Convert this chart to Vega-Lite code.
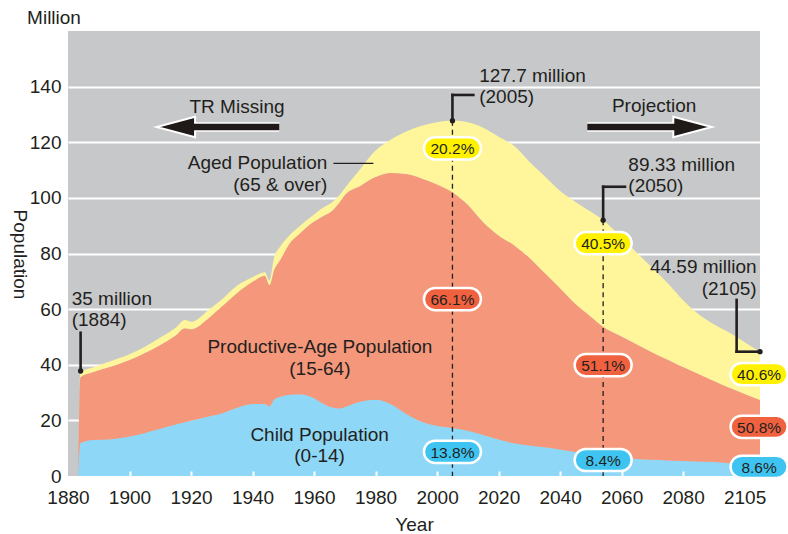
{
  "$schema": "https://vega.github.io/schema/vega-lite/v6.json",
  "width": 692,
  "height": 445,
  "autosize": "none",
  "padding": {"left": 68, "top": 31, "right": 28, "bottom": 58},
  "background": "white",
  "config": {
    "view": {"fill": "#c7c8ca", "stroke": null},
    "font": "Liberation Sans"
  },
  "datasets": {
    "pop": [
      {"year": 1883.3, "young": 0, "working": 0, "old": 0},
      {"year": 1884, "young": 11.8, "working": 23.7, "old": 1.7},
      {"year": 1888, "young": 12.9, "working": 24.4, "old": 1.7},
      {"year": 1893, "young": 13.1, "working": 25.9, "old": 2.0},
      {"year": 1900, "young": 14.2, "working": 27.5, "old": 2.1},
      {"year": 1905, "young": 15.5, "working": 28.7, "old": 2.3},
      {"year": 1910, "young": 17.0, "working": 30.1, "old": 2.7},
      {"year": 1915, "young": 18.5, "working": 32.0, "old": 2.8},
      {"year": 1918, "young": 19.3, "working": 33.8, "old": 3.0},
      {"year": 1920, "young": 19.9, "working": 32.9, "old": 2.7},
      {"year": 1926, "young": 21.5, "working": 35.5, "old": 3.0},
      {"year": 1930, "young": 22.5, "working": 38.4, "old": 2.6},
      {"year": 1935, "young": 24.5, "working": 41.3, "old": 2.7},
      {"year": 1940, "young": 25.9, "working": 43.9, "old": 1.7},
      {"year": 1944, "young": 25.9, "working": 46.1, "old": 1.3},
      {"year": 1945.5, "young": 25.0, "working": 43.7, "old": 1.6},
      {"year": 1947, "young": 27.5, "working": 46.5, "old": 4.5},
      {"year": 1949, "young": 28.5, "working": 49.2, "old": 4.8},
      {"year": 1952, "young": 29.2, "working": 54.3, "old": 3.0},
      {"year": 1955, "young": 29.4, "working": 57.4, "old": 2.7},
      {"year": 1960, "young": 28.0, "working": 63.5, "old": 2.5},
      {"year": 1963, "young": 26.0, "working": 67.5, "old": 3.0},
      {"year": 1966, "young": 24.6, "working": 70.9, "old": 3.0},
      {"year": 1968.5, "young": 24.3, "working": 74.4, "old": 2.6},
      {"year": 1970, "young": 24.8, "working": 76.2, "old": 2.5},
      {"year": 1975, "young": 26.7, "working": 77.6, "old": 6.0},
      {"year": 1980, "young": 27.4, "working": 80.1, "old": 9.5},
      {"year": 1985, "young": 25.8, "working": 83.1, "old": 12.1},
      {"year": 1990, "young": 22.3, "working": 86.3, "old": 15.3},
      {"year": 1995, "young": 19.5, "working": 87.5, "old": 18.9},
      {"year": 2000, "young": 18.0, "working": 86.8, "old": 22.4},
      {"year": 2005, "young": 17.3, "working": 84.7, "old": 25.8},
      {"year": 2010, "young": 16.3, "working": 81.2, "old": 29.7},
      {"year": 2015, "young": 14.7, "working": 76.5, "old": 34.0},
      {"year": 2020, "young": 13.1, "working": 73.4, "old": 35.5},
      {"year": 2025, "young": 11.8, "working": 71.2, "old": 35.7},
      {"year": 2030, "young": 11.0, "working": 67.5, "old": 34.5},
      {"year": 2035, "young": 10.3, "working": 62.7, "old": 34.8},
      {"year": 2040, "young": 9.5, "working": 58.0, "old": 35.0},
      {"year": 2045, "young": 8.6, "working": 53.2, "old": 36.7},
      {"year": 2050, "young": 7.8, "working": 49.5, "old": 37.7},
      {"year": 2054, "young": 7.1, "working": 46.6, "old": 38.3},
      {"year": 2060, "young": 6.5, "working": 43.7, "old": 35.6},
      {"year": 2065, "young": 6.1, "working": 41.2, "old": 32.9},
      {"year": 2070, "young": 5.8, "working": 38.6, "old": 30.4},
      {"year": 2075, "young": 5.6, "working": 36.2, "old": 27.5},
      {"year": 2080, "young": 5.4, "working": 33.8, "old": 24.0},
      {"year": 2085, "young": 5.2, "working": 31.5, "old": 21.5},
      {"year": 2090, "young": 5.0, "working": 29.2, "old": 20.4},
      {"year": 2095, "young": 4.6, "working": 27.1, "old": 19.9},
      {"year": 2100, "young": 4.3, "working": 25.2, "old": 18.6},
      {"year": 2105, "young": 4.0, "working": 23.3, "old": 17.3}
    ],
    "guides": [
      {"year": 2005, "value": 127.75, "value2": 0},
      {"year": 2054, "value": 92.0, "value2": 0}
    ],
    "leaders": [
      {"year": 2005, "value": 137.0, "year2": 2005, "value2": 127.75},
      {"year": 2005, "value": 137.0, "year2": 2011.8, "value2": 137.0},
      {"year": 2054, "value": 104.0, "year2": 2054, "value2": 92.0},
      {"year": 2054, "value": 104.0, "year2": 2061.1, "value2": 104.0},
      {"year": 2097.4, "value": 63.3, "year2": 2097.4, "value2": 44.7},
      {"year": 2097.4, "value": 44.7, "year2": 2105, "value2": 44.7},
      {"year": 1884.1, "value": 51.5, "year2": 1884.1, "value2": 37.75}
    ],
    "agedLeader": [
      {"year": 1966.3, "value": 112.4, "year2": 1979.3, "value2": 112.4}
    ],
    "dots": [
      {"year": 2005, "value": 127.75},
      {"year": 2054, "value": 92.0},
      {"year": 2105, "value": 44.7},
      {"year": 1884.1, "value": 37.75}
    ],
    "pills": [
      {"year": 2005, "value": 117.8, "label": "20.2%", "kind": "old"},
      {"year": 2005, "value": 63.6, "label": "66.1%", "kind": "working"},
      {"year": 2005, "value": 8.7, "label": "13.8%", "kind": "young"},
      {"year": 2054, "value": 83.7, "label": "40.5%", "kind": "old"},
      {"year": 2054, "value": 39.9, "label": "51.1%", "kind": "working"},
      {"year": 2054, "value": 5.75, "label": "8.4%", "kind": "young"},
      {"year": 2104.7, "value": 36.6, "label": "40.6%", "kind": "old"},
      {"year": 2104.7, "value": 17.7, "label": "50.8%", "kind": "working"},
      {"year": 2104.7, "value": 3.3, "label": "8.6%", "kind": "young"}
    ],
    "notesCenter": [
      {"year": 1875.45, "value": 162.5, "text": "Million"},
      {"year": 1934.95, "value": 130.6, "text": "TR Missing"},
      {"year": 2070.6, "value": 130.9, "text": "Projection"},
      {"year": 1961.9, "value": 44.1, "text": "Productive-Age Population\n(15-64)"},
      {"year": 1961.8, "value": 12.6, "text": "Child Population\n(0-14)"}
    ],
    "notesLeft": [
      {"year": 2013.7, "value": 141.8, "text": "127.7 million\n(2005)"},
      {"year": 2062.2, "value": 109.7, "text": "89.33 million\n(2050)"},
      {"year": 1881.2, "value": 61.5, "text": "35 million\n(1884)"}
    ],
    "notesRight": [
      {"year": 1964.3, "value": 110.3, "text": "Aged Population\n(65 & over)"},
      {"year": 2103.9, "value": 72.9, "text": "44.59 million\n(2105)"}
    ],
    "shafts": [
      {"year": 1920.3, "year2": 1948.7, "value": 125.5},
      {"year": 2048.85, "year2": 2077.5, "value": 125.5}
    ],
    "heads": [
      {"year": 1915.07, "value": 125.5, "dir": "left"},
      {"year": 2083.05, "value": 125.5, "dir": "right"}
    ]
  },
  "encoding": {
    "x": {
      "field": "year",
      "type": "quantitative",
      "scale": {"domain": [1880, 2105], "nice": false, "zero": false},
      "axis": {
        "title": "Year",
        "values": [1880, 1900, 1920, 1940, 1960, 1980, 2000, 2020, 2040, 2060, 2080, 2100],
        "labelExpr": "datum.value === 2100 ? '2105' : datum.label",
        "format": "d",
        "grid": false,
        "domain": false,
        "ticks": true,
        "tickSize": -5,
        "tickColor": "white",
        "tickWidth": 2,
        "tickOpacity": {"condition": {"test": "datum.value === 1880 || datum.value === 2100", "value": 0}, "value": 1},
        "labelPadding": 32,
        "labelBaseline": "alphabetic",
        "labelFlush": false,
        "labelOverlap": false,
        "labelFontSize": 19,
        "labelColor": "#231f20",
        "titleFontSize": 19,
        "titleFontWeight": "normal",
        "titleColor": "#231f20",
        "titleY": 54,
        "titleBaseline": "alphabetic",
        "zindex": 1
      }
    },
    "y": {
      "field": "value",
      "type": "quantitative",
      "scale": {"domain": [0, 160], "nice": false},
      "axis": {
        "title": "Population",
        "values": [0, 20, 40, 60, 80, 100, 120, 140],
        "grid": true,
        "gridColor": "white",
        "gridWidth": 2,
        "gridOpacity": {"condition": {"test": "datum.value === 0", "value": 0}, "value": 1},
        "ticks": false,
        "domain": false,
        "labelPadding": 7,
        "labelFlush": false,
        "labelOverlap": false,
        "labelFontSize": 19,
        "labelColor": "#231f20",
        "titleFontSize": 19,
        "titleFontWeight": "normal",
        "titleColor": "#231f20",
        "titleAngle": 90,
        "titleX": -55,
        "titleY": 223,
        "titleAlign": "center",
        "titleBaseline": "alphabetic",
        "zindex": 0
      }
    }
  },
  "layer": [
    {
      "data": {"name": "pop"},
      "transform": [
        {"fold": ["young", "working", "old"], "as": ["group", "amount"]},
        {"stack": "amount", "groupby": ["year"], "sort": [{"field": "group", "order": "descending"}], "as": ["lo", "value"]}
      ],
      "mark": {"type": "area", "interpolate": "monotone"},
      "encoding": {
        "y2": {"field": "lo"},
        "color": {
          "field": "group",
          "type": "nominal",
          "scale": {"domain": ["young", "working", "old"], "range": ["#8ed7f6", "#f5977a", "#fff59b"]},
          "legend": null
        }
      }
    },
    {
      "data": {"name": "guides"},
      "mark": {"type": "rule", "color": "#231f20", "strokeWidth": 1.3, "strokeDash": [5, 4]},
      "encoding": {"y2": {"field": "value2"}}
    },
    {
      "data": {"name": "leaders"},
      "mark": {"type": "rule", "color": "#231f20", "strokeWidth": 2.6, "strokeCap": "square"},
      "encoding": {"x2": {"field": "year2"}, "y2": {"field": "value2"}}
    },
    {
      "data": {"name": "agedLeader"},
      "mark": {"type": "rule", "color": "#231f20", "strokeWidth": 1.3},
      "encoding": {"x2": {"field": "year2"}, "y2": {"field": "value2"}}
    },
    {
      "data": {"name": "dots"},
      "mark": {"type": "point", "filled": true, "size": 28, "color": "#231f20", "opacity": 1}
    },
    {
      "data": {"name": "pills"},
      "mark": {
        "type": "point",
        "filled": true,
        "size": 3249,
        "shape": "M -0.61 -0.39 L 0.61 -0.39 A 0.39 0.39 0 0 1 0.61 0.39 L -0.61 0.39 A 0.39 0.39 0 0 1 -0.61 -0.39 Z",
        "stroke": "white",
        "strokeWidth": 2.5,
        "opacity": 1
      },
      "encoding": {
        "fill": {
          "field": "kind",
          "type": "nominal",
          "scale": {"domain": ["young", "working", "old"], "range": ["#3fc4f1", "#f0623f", "#fff100"]},
          "legend": null
        }
      }
    },
    {
      "data": {"name": "pills"},
      "mark": {"type": "text", "fontSize": 15.5, "color": "#231f20", "align": "center", "baseline": "middle", "dy": 1},
      "encoding": {"text": {"field": "label"}}
    },
    {
      "data": {"name": "notesCenter"},
      "mark": {"type": "text", "fontSize": 19, "color": "#231f20", "align": "center", "baseline": "alphabetic", "lineBreak": "\n", "lineHeight": 21.5},
      "encoding": {"text": {"field": "text"}}
    },
    {
      "data": {"name": "notesLeft"},
      "mark": {"type": "text", "fontSize": 19, "color": "#231f20", "align": "left", "baseline": "alphabetic", "lineBreak": "\n", "lineHeight": 21.5},
      "encoding": {"text": {"field": "text"}}
    },
    {
      "data": {"name": "notesRight"},
      "mark": {"type": "text", "fontSize": 19, "color": "#231f20", "align": "right", "baseline": "alphabetic", "lineBreak": "\n", "lineHeight": 21.5},
      "encoding": {"text": {"field": "text"}}
    },
    {
      "data": {"name": "shafts"},
      "mark": {"type": "rule", "color": "white", "strokeWidth": 9.5},
      "encoding": {"x2": {"field": "year2"}}
    },
    {
      "data": {"name": "heads"},
      "mark": {"type": "point", "filled": true, "size": 1474, "fill": "#1f1a17", "stroke": "white", "strokeWidth": 2, "opacity": 1},
      "encoding": {
        "shape": {
          "field": "dir",
          "type": "nominal",
          "scale": {"domain": ["left", "right"], "range": ["M 1 -0.53 L -1 0 L 1 0.53 Z", "M -1 -0.53 L 1 0 L -1 0.53 Z"]},
          "legend": null
        }
      }
    },
    {
      "data": {"name": "shafts"},
      "mark": {"type": "rule", "color": "#1f1a17", "strokeWidth": 6.5},
      "encoding": {"x2": {"field": "year2"}}
    }
  ]
}
